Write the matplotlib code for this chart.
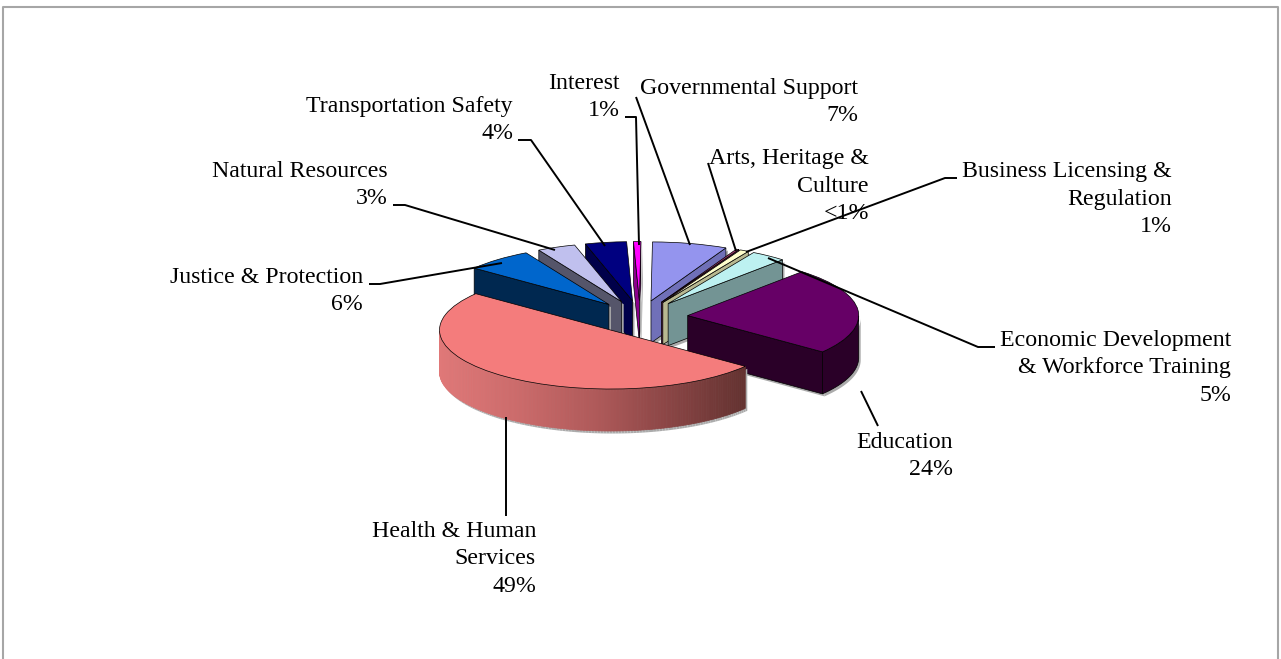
# ==============================
# 3D EXPLODED PIE : BUDGET BY FUNCTION
# ==============================
import numpy as np
import matplotlib
matplotlib.use("Agg")
import matplotlib.pyplot as plt
from matplotlib.colors import LinearSegmentedColormap
from matplotlib.patches import Polygon

plt.rcParams['font.family'] = ['Liberation Serif', 'DejaVu Sans']

# ==============================
# DATA
# ==============================
categories = ["Governmental Support", "Arts, Heritage &\nCulture",
              "Business Licensing &\nRegulation",
              "Economic Development\n& Workforce Training", "Education",
              "Health & Human\nServices", "Justice & Protection",
              "Natural Resources", "Transportation Safety", "Interest"]
pct_labels = ["7%", "<1%", "1%", "5%", "24%", "49%", "6%", "3%", "4%", "1%"]

# share of the circle as drawn (perspective squeezes some)
shares = [7.08, 0.28, 0.83, 3.33, 23.89, 50.0, 6.39, 3.61, 3.89, 0.69]

top_colors = ["#9494EE", "#993366", "#FFFFCC", "#BDF1F1", "#660066",
              "#F47C7C", "#0066CC", "#C0C0EE", "#000080", "#FF00FF"]
wall_colors = ["#7070B8", "#5A1E3C", "#B8B890", "#739494", "#2A0028",
               "#F47C7C", "#002850", "#55556A", "#00004A", "#8B008B"]

# ==============================
# LAYOUT (pixels)
# ==============================
W, H = 1281, 659
CX, CY = 640, 317     # centre of the pie before exploding
RX, RY = 171, 59      # ellipse radii of the top face
DEPTH = 42 / RY
SHADOW = (2 / RX, 2.5 / RY)

# right edge of the text, y centre of the text block
label_pos = [(858, 102), (869, 186), (1172, 199), (1231, 368), (953, 456),
             (536, 559), (363, 291), (388, 185), (513, 120), (620, 97)]

leaders = [
    [(636, 97), (690, 245)],
    [(708, 163), (736, 251)],
    [(957, 178), (945, 178), (746, 252)],
    [(995, 347), (978, 347), (768, 258)],
    [(861, 391), (878, 426)],
    [(506, 417), (506, 516)],
    [(369, 284), (380, 284), (502, 263)],
    [(393, 205), (405, 205), (555, 250)],
    [(518, 140), (531, 140), (605, 246)],
    [(625, 117), (636, 117), (639, 245)],
]

health_cmap = LinearSegmentedColormap.from_list(
    "health_wall", ["#E07878", "#CC6B6B", "#B05A5A", "#8A4545", "#633230"])

# ==============================
# PIE
# ==============================
fig = plt.figure(figsize=(W / 100, H / 100), dpi=100)
ax = fig.add_axes([0, 0, 1, 1])

wedges, _ = ax.pie(shares, explode=[0.28] * len(shares), colors=top_colors,
                   startangle=89.5, counterclock=False,
                   wedgeprops={"edgecolor": "black", "linewidth": 0.5})

# squash the circle to an ellipse
ax.set_aspect('auto')
ax.set_xlim(-CX / RX, (W - CX) / RX)
ax.set_ylim((CY - H) / RY, CY / RY)
ax.axis('off')


def rim(wedge, deg):
    rad = np.deg2rad(deg)
    return np.array(wedge.center) + wedge.r * np.array([np.cos(rad), np.sin(rad)])


def add_wall(pts, color, z, edge=True):
    # pts = upper edge of the wall, extruded downward by DEPTH
    pts = np.asarray(pts)
    low = pts[::-1] - [0, DEPTH]
    shadow = np.vstack([pts, low]) + [SHADOW[0], -SHADOW[1]]
    ax.add_patch(Polygon(shadow, closed=True, facecolor="#ABABAB",
                         edgecolor="none", zorder=z))
    ax.add_patch(Polygon(np.vstack([pts, low]), closed=True, facecolor=color,
                         edgecolor="black" if edge else color,
                         linewidth=0.5, zorder=z))


# back slices first, front slices painted over them
order = sorted(range(len(wedges)), key=lambda i: -wedges[i].center[1])

for rank, i in enumerate(order):
    w = wedges[i]
    z = 2 + rank * 2
    w.set_zorder(z + 1)
    apex = np.array(w.center)

    # cut faces, only when they look toward the viewer
    if np.sin(np.deg2rad(w.theta1 - 90)) < 0:
        add_wall([apex, rim(w, w.theta1)], wall_colors[i], z)
    if np.sin(np.deg2rad(w.theta2 + 90)) < -1e-9:
        add_wall([apex, rim(w, w.theta2)], wall_colors[i], z)

    # outer wall on the front half of the circle
    ts = np.linspace(w.theta1, w.theta2, 181)
    ts = ts[np.sin(np.deg2rad(ts)) < 0]
    if len(ts) < 2:
        continue
    if categories[i].startswith("Health"):
        x0, x1 = rim(w, ts[0])[0], rim(w, ts[-1])[0]
        for a, b in zip(ts[:-1], ts[1:]):
            frac = (rim(w, a)[0] - x0) / (x1 - x0)
            add_wall([rim(w, a), rim(w, b)], health_cmap(frac), z, edge=False)
    else:
        add_wall([rim(w, t) for t in ts], wall_colors[i], z)

# ==============================
# LABELS + LEADERS + FRAME (pixel coordinates)
# ==============================
ov = fig.add_axes([0, 0, 1, 1], facecolor="none")
ov.set_xlim(0, W)
ov.set_ylim(H, 0)
ov.axis('off')

for name, pct, (x, y) in zip(categories, pct_labels, label_pos):
    ov.text(x, y, name + "\n" + pct, ha='right', va='center', ma='right',
            fontsize=17.2, linespacing=1.42, color="black")

for line in leaders:
    xs, ys = zip(*line)
    ov.plot(xs, ys, color="black", linewidth=1.4, solid_capstyle='butt')

ov.plot([3, 3, 1278, 1278], [H, 7, 7, H], color="#A6A6A6", linewidth=1.5)

fig.savefig("out.png", dpi=100)
